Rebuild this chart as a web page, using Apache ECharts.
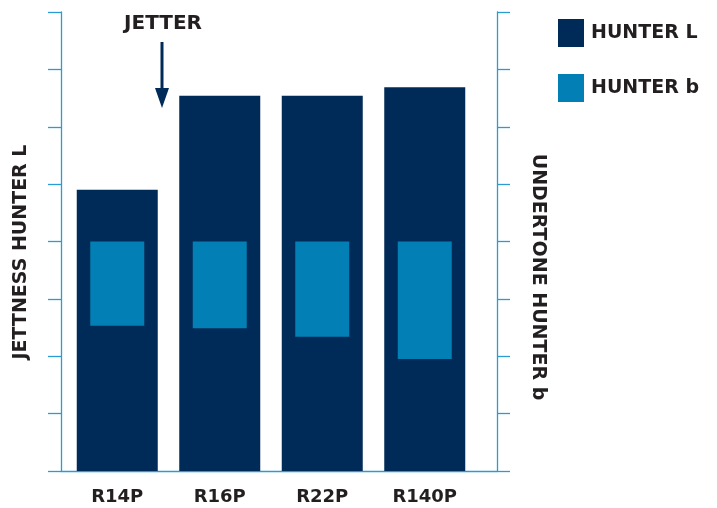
<!DOCTYPE html>
<html>
<head>
<meta charset="utf-8">
<script src="https://cdn.jsdelivr.net/npm/echarts@6/dist/echarts.min.js"></script>
<style>
html,body{margin:0;padding:0;background:#fff;}
#c{width:717px;height:508px;}
</style>
</head>
<body>
<div id="c"></div>
<script>
const categories = ['R14P', 'R16P', 'R22P', 'R140P'];
const hunterL = [49.0, 65.4, 65.4, 66.9];
const hunterB = [-1.47, -1.51, -1.66, -2.05];
const seriesNames = ['HUNTER L', 'HUNTER b'];
const axisTitles = ['JETTNESS HUNTER L', 'UNDERTONE HUNTER b'];
const annotationText = 'JETTER';

const FONT = 'DejaVu Sans';
const TXT = '#231F20';
const DARK = '#002B59';
const LIGHT = '#0280B5';
const AXIS = '#2A9BD3';

const chart = echarts.init(document.getElementById('c'), null, {renderer: 'canvas'});

const frameY = (pos, min, max, interval) => ({
  gridIndex: 1, type: 'value', position: pos, min: min, max: max, interval: interval,
  axisLine: {show: true, lineStyle: {color: AXIS, width: 1.3}},
  axisTick: {show: true, inside: false, length: 13, lineStyle: {color: AXIS, width: 1.3}},
  axisLabel: {show: false}, splitLine: {show: false}
});

chart.setOption({
  animation: false,
  backgroundColor: '#fff',
  textStyle: {fontFamily: FONT},
  grid: [
    {left: 66, right: 241, top: 12, bottom: 37},
    {left: 61, right: 220, top: 12, bottom: 37}
  ],
  legend: {
    orient: 'vertical', left: 553, top: 14,
    itemWidth: 26, itemHeight: 28, itemGap: 27,
    icon: 'rect',
    data: seriesNames,
    textStyle: {fontFamily: FONT, fontSize: 19, fontWeight: 'bold', color: TXT, padding: [0, 0, 0, 2]}
  },
  xAxis: [
    {gridIndex: 0, type: 'category', data: categories,
     axisLine: {show: false}, axisTick: {show: false}, splitLine: {show: false},
     axisLabel: {fontFamily: FONT, fontSize: 18, fontWeight: 'bold', color: TXT, margin: 17}},
    {gridIndex: 0, type: 'category', data: categories, show: false},
    {gridIndex: 1, type: 'value', min: 0, max: 1,
     axisLine: {show: true, onZero: false, lineStyle: {color: AXIS, width: 1.3}},
     axisTick: {show: false}, axisLabel: {show: false}, splitLine: {show: false}}
  ],
  yAxis: [
    {gridIndex: 0, type: 'value', min: 0, max: 80, interval: 10, show: false},
    {gridIndex: 0, type: 'value', min: -4, max: 4, interval: 1, show: false},
    frameY('left', 0, 80, 10),
    frameY('right', -4, 4, 1)
  ],
  series: [
    {name: seriesNames[0], type: 'bar', xAxisIndex: 0, yAxisIndex: 0,
     data: hunterL, barWidth: 81, itemStyle: {color: DARK}},
    {name: seriesNames[1], type: 'bar', xAxisIndex: 1, yAxisIndex: 1,
     data: hunterB, barWidth: 54, itemStyle: {color: LIGHT}}
  ],
  graphic: [
    {type: 'text', x: 21, y: 252, rotation: Math.PI / 2,
     style: {text: axisTitles[0], font: 'bold 19px "' + FONT + '"', fill: TXT, align: 'center', verticalAlign: 'middle'}},
    {type: 'text', x: 538, y: 277, rotation: -Math.PI / 2,
     style: {text: axisTitles[1], font: 'bold 19px "' + FONT + '"', fill: TXT, align: 'center', verticalAlign: 'middle'}},
    {type: 'text', x: 163, y: 24,
     style: {text: annotationText, font: 'bold 20px "' + FONT + '"', fill: TXT, align: 'center', verticalAlign: 'middle'}},
    {type: 'line', shape: {x1: 162, y1: 42, x2: 162, y2: 92}, style: {stroke: DARK, lineWidth: 3}},
    {type: 'polygon', shape: {points: [[155, 88], [169, 88], [162, 108]]}, style: {fill: DARK}}
  ]
});
</script>
</body>
</html>
